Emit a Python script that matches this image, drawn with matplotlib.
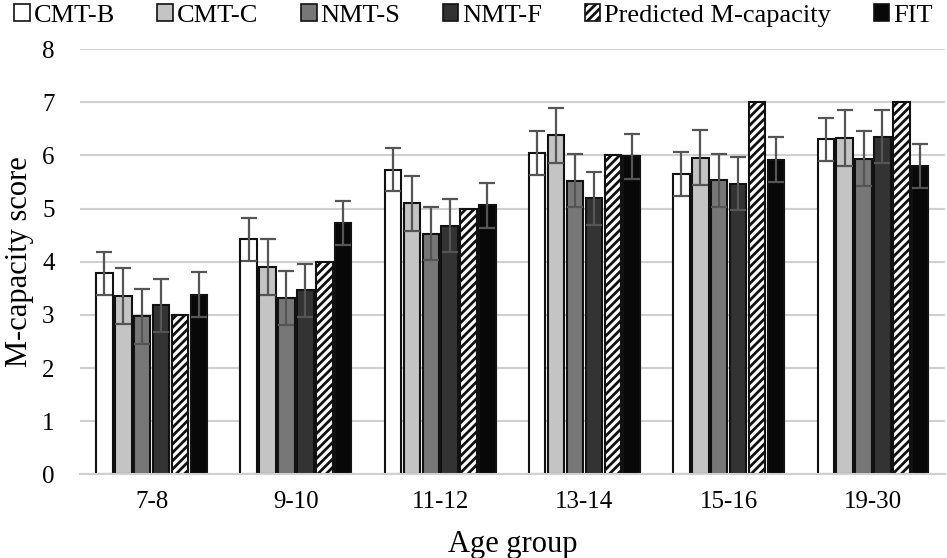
import numpy as np
import matplotlib.pyplot as plt
from matplotlib.patches import Patch

plt.rcParams['font.family'] = ['Liberation Serif', 'DejaVu Serif']
plt.rcParams['hatch.linewidth'] = 2.0

groups = ['7-8', '9-10', '11-12', '13-14', '15-16', '19-30']
series = ['CMT-B', 'CMT-C', 'NMT-S', 'NMT-F', 'Predicted M-capacity', 'FIT']

cmt_b = [3.78, 4.42, 5.73, 6.05, 5.65, 6.30]
cmt_c = [3.35, 3.90, 5.10, 6.38, 5.96, 6.33]
nmt_s = [2.97, 3.32, 4.53, 5.52, 5.53, 5.94]
nmt_f = [3.18, 3.46, 4.68, 5.19, 5.47, 6.35]
predicted = [3, 4, 5, 6, 7, 7]
fit = [3.38, 4.73, 5.06, 5.98, 5.92, 5.80]

cmt_b_err = [0.40, 0.40, 0.40, 0.41, 0.41, 0.41]
cmt_c_err = [0.53, 0.52, 0.52, 0.52, 0.52, 0.52]
nmt_s_err = [0.51, 0.51, 0.50, 0.50, 0.50, 0.51]
nmt_f_err = [0.50, 0.50, 0.50, 0.50, 0.50, 0.50]
fit_err = [0.42, 0.42, 0.42, 0.42, 0.42, 0.42]

values = [cmt_b, cmt_c, nmt_s, nmt_f, predicted, fit]
errors = [cmt_b_err, cmt_c_err, nmt_s_err, nmt_f_err, None, fit_err]
colors = ['white', '#c4c4c4', '#777777', '#333333', 'white', '#080808']
hatches = [None, None, None, None, '////', None]

fig, ax = plt.subplots(figsize=(9.47, 5.58), dpi=100)
fig.subplots_adjust(left=0.084, right=0.998, top=0.912, bottom=0.15)

x = np.arange(len(groups))
width = 0.114
step = 0.131
for i in range(len(series)):
    pos = x + (i - 2.5) * step
    ax.bar(pos, values[i], width, color=colors[i], edgecolor='#111111',
           linewidth=1.5, hatch=hatches[i], zorder=2)
    if errors[i] is not None:
        ax.errorbar(pos, values[i], yerr=errors[i], fmt='none', ecolor='#555555',
                    elinewidth=1.6, capsize=6, capthick=1.6, zorder=3)

ax.set_ylim(0, 8)
ax.set_xlim(-0.5, len(groups) - 0.5)
ax.set_yticks(range(9))
ax.set_xticks(x)
ax.set_xticklabels(groups)
ax.tick_params(axis='both', labelsize=18, length=0)
ax.tick_params(axis='y', pad=18)
ax.tick_params(axis='x', pad=12)
ax.yaxis.grid(True, color='#d0d0d0', linewidth=1.5, zorder=0)
ax.set_axisbelow(True)
for s in ['top', 'right', 'left']:
    ax.spines[s].set_visible(False)
ax.spines['bottom'].set_color('#d0d0d0')
ax.spines['bottom'].set_linewidth(1.5)

ax.set_ylabel('M-capacity score', fontsize=22, labelpad=6)
ax.set_xlabel('Age group', fontsize=22, labelpad=12)

handles = [Patch(facecolor=colors[i], edgecolor='#111111', hatch=hatches[i], linewidth=1.2)
           for i in range(len(series))]
fig.legend(handles, series, loc='upper center', bbox_to_anchor=(0.5, 1.035), ncol=6,
           frameon=False, fontsize=19, handlelength=0.6, handleheight=0.6,
           handletextpad=0.15, columnspacing=1.6)

fig.savefig('out.png')
